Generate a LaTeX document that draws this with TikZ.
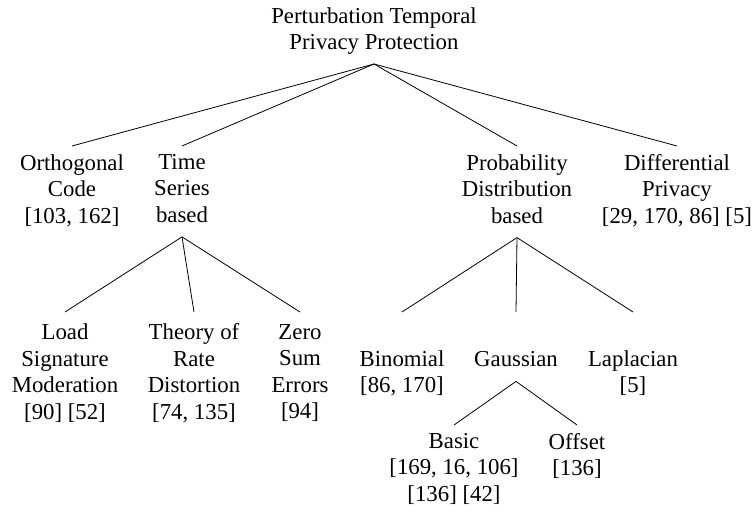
\documentclass[tikz,border=0pt]{standalone}
\usepackage{fontspec}
\setmainfont{Liberation Serif}

\def\nodeTop{12.8pt}

\begin{document}
\begin{tikzpicture}[x=0.5pt,y=-0.5pt,
  every node/.style={align=center,inner xsep=2pt,inner ysep=4pt,
    font=\fontsize{11.4}{13.25}\selectfont,
    execute at begin node=\rule{0pt}{\nodeTop},
    execute at end node=\rule[-3pt]{0pt}{3pt}},
  levelOne/.style={anchor=north},
  levelTwo/.style={anchor=north,minimum height=62pt,
    /utils/exec={\def\nodeTop{11.3pt}}}]
\useasboundingbox (0,0) rectangle (752,512);

% Root of the taxonomy
\node (root) [anchor=south] at (374,64) {Perturbation Temporal\\Privacy Protection};

% First level
\node (orth) [levelOne] at (72,146) {Orthogonal\\Code\\{}[103, 162]};
\node (time) [levelOne] at (182,146) {Time\\Series\\based};
\node (prob) [levelOne] at (517,146) {Probability\\Distribution\\based};
\node (diff) [levelOne] at (677,146) {Differential\\Privacy\\{}[29, 170, 86] [5]};
\foreach \x in {orth,time,prob,diff} {
  \draw (root.south) -- (\x.north);
}

% Time series based methods
\node (load) [levelTwo] at (65,312) {Load\\Signature\\Moderation\\{}[90] [52]};
\node (rate) [levelTwo] at (194,312) {Theory of\\Rate\\Distortion\\{}[74, 135]};
\node (zero) [levelTwo] at (300,312) {Zero\\Sum\\Errors\\{}[94]};
\foreach \x in {load,rate,zero} {
  \draw (time.south) -- (\x.north);
}

% Probability distribution based methods
\node (bino) [levelTwo] at (402,312) {Binomial\\{}[86, 170]};
\node (gauss) [anchor=north] at (516,333) {Gaussian};
\node (lap) [levelTwo] at (633,312) {Laplacian\\{}[5]};
\draw (prob.south) -- (bino.north);
\draw (prob.south) -- (gauss.north |- bino.north);
\draw (prob.south) -- (lap.north);

% Gaussian noise
\node (basic) [anchor=north] at (454,425) {Basic\\{}[169, 16, 106]\\{}[136] [42]};
\node (offset) [anchor=north] at (577,425) {Offset\\{}[136]};
\foreach \x in {basic,offset} {
  \draw (gauss.south) -- (\x.north);
}
\end{tikzpicture}
\end{document}
